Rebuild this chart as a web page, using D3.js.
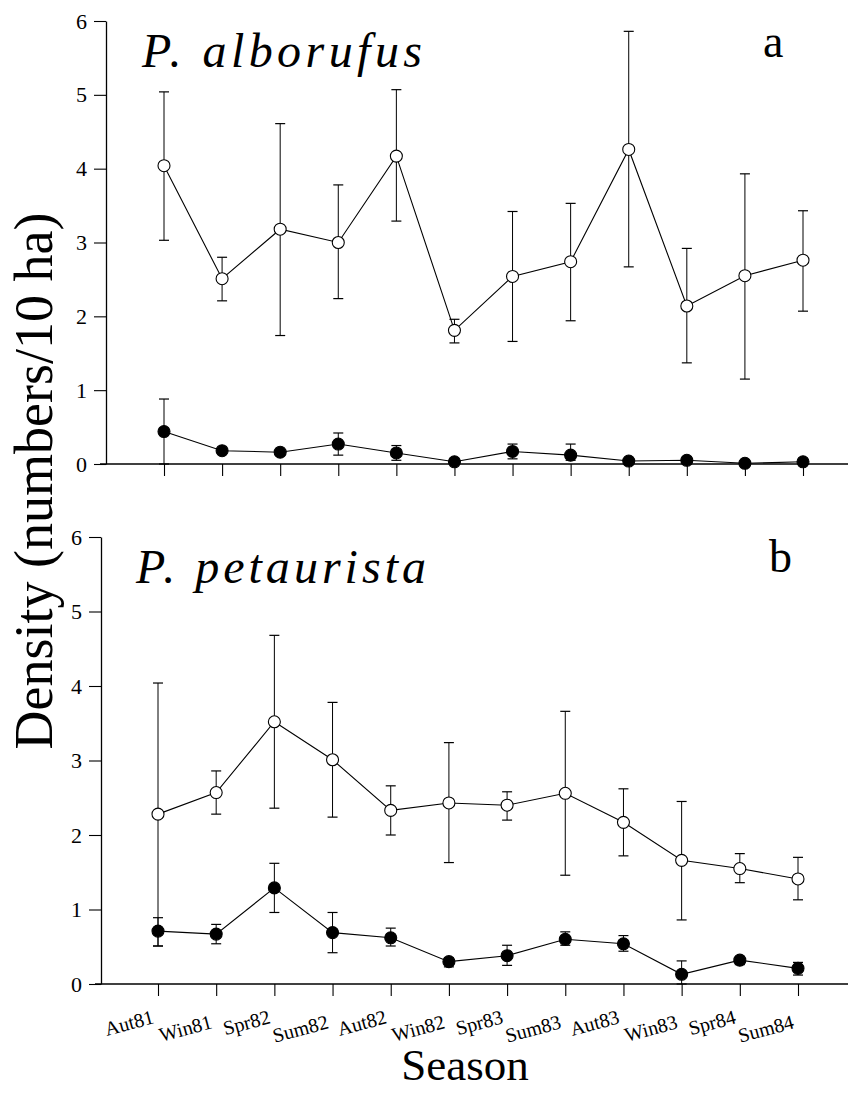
<!DOCTYPE html>
<html>
<head>
<meta charset="utf-8">
<script src="https://cdn.jsdelivr.net/npm/d3@7"></script>
<style>
  body { margin: 0; background: #fff; }
  svg { display: block; }
</style>
</head>
<body>
<div class="chart"></div>
<script>
let seasons = ["Aut81","Win81","Spr82","Sum82","Aut82","Win82","Spr83","Sum83","Aut83","Win83","Spr84","Sum84"];
let yTicks = [0, 1, 2, 3, 4, 5, 6];

// P. alborufus
let albOpen     = [4.04, 2.51, 3.18, 3.00, 4.17, 1.81, 2.54, 2.74, 4.26, 2.14, 2.55, 2.76];
let albOpenHi   = [5.04, 2.80, 4.61, 3.78, 5.07, 1.96, 3.42, 3.53, 5.86, 2.92, 3.93, 3.43];
let albOpenLo   = [3.03, 2.21, 1.74, 2.24, 3.29, 1.64, 1.66, 1.94, 2.67, 1.37, 1.15, 2.07];
let albFilled   = [0.44, 0.18, 0.16, 0.27, 0.15, 0.03, 0.17, 0.12, 0.04, 0.05, 0.01, 0.03];
let albFilledHi = [0.88, 0.18, 0.16, 0.42, 0.25, 0.03, 0.27, 0.27, 0.04, 0.10, 0.01, 0.03];
let albFilledLo = [0.00, 0.18, 0.16, 0.12, 0.05, 0.03, 0.07, 0.05, 0.04, 0.00, 0.01, 0.03];

// P. petaurista
let petOpen     = [2.28, 2.57, 3.52, 3.01, 2.33, 2.43, 2.40, 2.56, 2.17, 1.66, 1.55, 1.41];
let petOpenHi   = [4.04, 2.86, 4.68, 3.78, 2.66, 3.24, 2.58, 3.66, 2.62, 2.45, 1.75, 1.70];
let petOpenLo   = [0.51, 2.28, 2.36, 2.24, 2.00, 1.63, 2.20, 1.46, 1.72, 0.86, 1.36, 1.13];
let petFilled   = [0.71, 0.67, 1.29, 0.69, 0.62, 0.30, 0.38, 0.60, 0.54, 0.13, 0.32, 0.21];
let petFilledHi = [0.89, 0.80, 1.62, 0.96, 0.75, 0.35, 0.52, 0.70, 0.65, 0.31, 0.37, 0.29];
let petFilledLo = [0.51, 0.54, 0.96, 0.42, 0.51, 0.23, 0.25, 0.52, 0.44, 0.00, 0.26, 0.12];

let font = 'Liberation Serif, Times New Roman, serif';

let svg = d3.select('.chart').append('svg')
  .attr('width', 848).attr('height', 1093)
  .style('font-family', font);

let panels = [
  { title: 'P. alborufus', titleLen: 280, titleX: 142, titleY: 67, tag: 'a', tagX: 763, tagY: 57,
    axisX: 106, yRange: [464, 21], xRange: [164, 803], showLabels: false,
    series: [
      { v: albOpen, hi: albOpenHi, lo: albOpenLo, open: true },
      { v: albFilled, hi: albFilledHi, lo: albFilledLo, open: false }
    ] },
  { title: 'P. petaurista', titleLen: 290, titleX: 136, titleY: 583, tag: 'b', tagX: 769, tagY: 572,
    axisX: 101, yRange: [984, 537], xRange: [158, 798], showLabels: true,
    series: [
      { v: petOpen, hi: petOpenHi, lo: petOpenLo, open: true },
      { v: petFilled, hi: petFilledHi, lo: petFilledLo, open: false }
    ] }
];

panels.forEach(function(p) {
  let x = d3.scalePoint().domain(seasons).range(p.xRange);
  let y = d3.scaleLinear().domain([0, 6]).range(p.yRange);
  let g = svg.append('g');

  // y axis
  let yAxis = g.append('g')
    .attr('transform', 'translate(' + p.axisX + ',0)')
    .call(d3.axisLeft(y).tickValues(yTicks).tickFormat(d3.format('d'))
      .tickSize(12).tickSizeOuter(0).tickPadding(7));
  yAxis.attr('font-family', font);
  yAxis.select('.domain').attr('stroke-width', 1.3);
  yAxis.selectAll('.tick line').attr('stroke-width', 1.1);
  yAxis.selectAll('text').attr('font-size', 22).attr('fill', '#000');

  // x axis
  let xAxis = g.append('g')
    .attr('transform', 'translate(0,' + y(0) + ')')
    .call(d3.axisBottom(x).tickSize(12).tickFormat(''));
  xAxis.select('.domain').remove();
  xAxis.selectAll('.tick line').attr('stroke-width', 1.1);
  g.append('line')
    .attr('x1', p.axisX - 6).attr('x2', 848)
    .attr('y1', y(0)).attr('y2', y(0))
    .attr('stroke', '#000').attr('stroke-width', 1.3);

  if (p.showLabels) {
    g.selectAll('.season')
      .data(seasons)
      .enter().append('text')
      .attr('text-anchor', 'end')
      .attr('font-size', 20)
      .attr('transform', function(d, i) {
        return 'translate(' + (x(d) - 3) + ',' + (y(0) + 39 + (i % 2) * 5) + ') rotate(-15)';
      })
      .text(d => d);
  }

  p.series.forEach(function(s) {
    let pts = seasons.map((d, i) => ({ k: d, v: s.v[i], hi: s.hi[i], lo: s.lo[i] }));
    let bars = pts.filter(d => d.hi - d.lo > 0.02);

    g.selectAll(null).data(bars).enter().append('line')
      .attr('x1', d => x(d.k)).attr('x2', d => x(d.k))
      .attr('y1', d => y(d.hi)).attr('y2', d => y(d.lo))
      .attr('stroke', '#000').attr('stroke-width', 1);
    [ 'hi', 'lo' ].forEach(function(key) {
      g.selectAll(null).data(bars).enter().append('line')
        .attr('x1', d => x(d.k) - 5).attr('x2', d => x(d.k) + 5)
        .attr('y1', d => y(d[key])).attr('y2', d => y(d[key]))
        .attr('stroke', '#000').attr('stroke-width', 1.2);
    });

    g.append('path')
      .datum(pts)
      .attr('d', d3.line().x(d => x(d.k)).y(d => y(d.v)))
      .attr('fill', 'none')
      .attr('stroke', '#000')
      .attr('stroke-width', 1.1);

    g.selectAll(null).data(pts).enter().append('circle')
      .attr('cx', d => x(d.k)).attr('cy', d => y(d.v))
      .attr('r', 6)
      .attr('fill', s.open ? '#fff' : '#000')
      .attr('stroke', '#000')
      .attr('stroke-width', 1.1);
  });

  g.append('text')
    .attr('x', p.titleX).attr('y', p.titleY)
    .attr('font-style', 'italic')
    .attr('font-size', 48)
    .attr('textLength', p.titleLen).attr('lengthAdjust', 'spacing')
    .text(p.title);

  g.append('text')
    .attr('x', p.tagX).attr('y', p.tagY)
    .attr('font-size', 46)
    .text(p.tag);
});

svg.append('text')
  .attr('transform', 'translate(52,481) rotate(-90)')
  .attr('text-anchor', 'middle')
  .attr('font-size', 54)
  .text('Density (numbers/10 ha)');

svg.append('text')
  .attr('x', 465).attr('y', 1080)
  .attr('text-anchor', 'middle')
  .attr('font-size', 45)
  .text('Season');
</script>
</body>
</html>
